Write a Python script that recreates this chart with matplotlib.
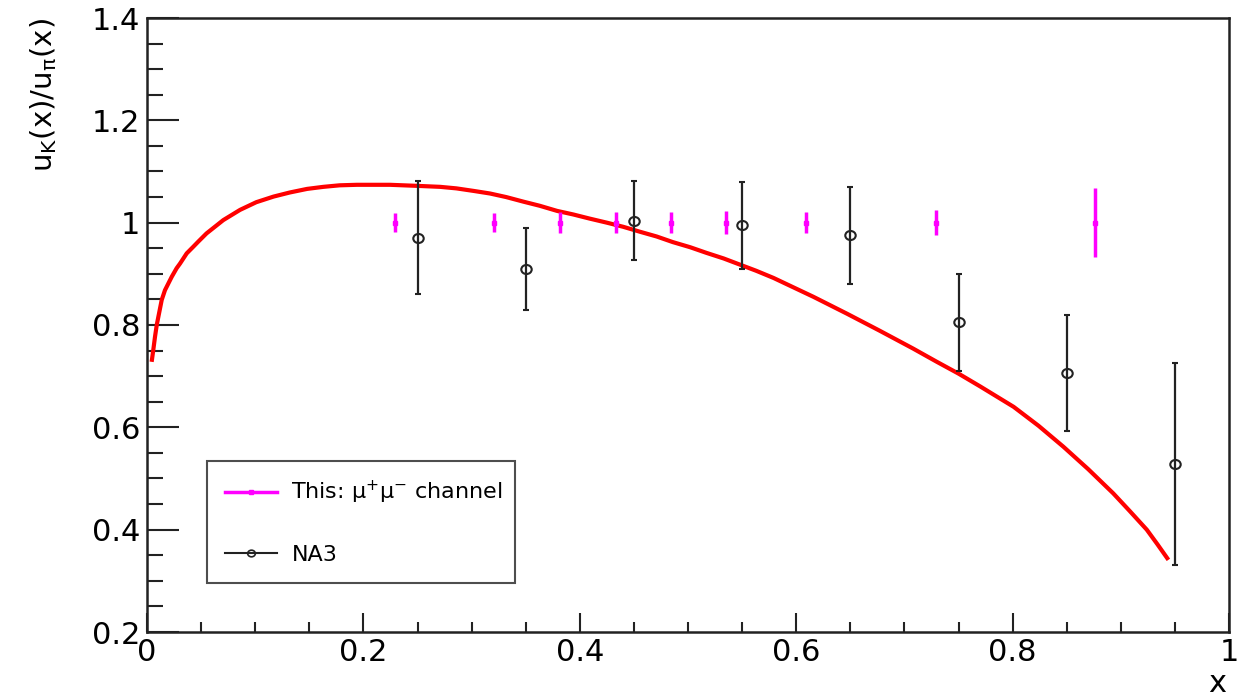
import matplotlib
matplotlib.use("Agg")
import matplotlib.pyplot as plt
from matplotlib.lines import Line2D
from matplotlib.ticker import MultipleLocator
from matplotlib.path import Path
from matplotlib.transforms import Affine2D

plt.rcParams['font.family'] = ['DejaVu Sans']
plt.rcParams['mathtext.fontset'] = 'dejavusans'

# --- data ---
this_x = [0.229, 0.321, 0.382, 0.433, 0.484, 0.535, 0.609, 0.729, 0.876]
this_y = [1.0, 1.0, 1.0, 1.0, 1.0, 1.0, 1.0, 1.0, 1.0]
this_err = [0.019, 0.019, 0.020, 0.021, 0.020, 0.022, 0.020, 0.024, 0.067]

na3_x = [0.25, 0.35, 0.45, 0.55, 0.65, 0.75, 0.85, 0.95]
na3_y = [0.971, 0.909, 1.004, 0.995, 0.975, 0.805, 0.706, 0.528]
na3_err = [0.110, 0.080, 0.077, 0.085, 0.095, 0.095, 0.113, 0.197]

curve_x = [0.0043, 0.0058, 0.0074, 0.009, 0.0105, 0.0136, 0.0166, 0.0197,
           0.0228, 0.0274, 0.0305, 0.0367, 0.0428, 0.0474, 0.055, 0.0705,
           0.086, 0.101, 0.117, 0.132, 0.148, 0.163, 0.178, 0.194, 0.209,
           0.2246, 0.249, 0.271, 0.286, 0.302, 0.317, 0.332, 0.348, 0.363,
           0.379, 0.394, 0.409, 0.425, 0.440, 0.456, 0.471, 0.486, 0.502,
           0.517, 0.533, 0.548, 0.563, 0.579, 0.594, 0.616, 0.647, 0.677,
           0.708, 0.730, 0.750, 0.770, 0.801, 0.824, 0.847, 0.870, 0.893,
           0.908, 0.924, 0.934, 0.944]
curve_y = [0.728, 0.751, 0.777, 0.800, 0.816, 0.849, 0.868, 0.881,
           0.894, 0.911, 0.920, 0.940, 0.953, 0.963, 0.979, 1.005,
           1.025, 1.040, 1.051, 1.059, 1.066, 1.070, 1.073, 1.074, 1.074,
           1.074, 1.072, 1.070, 1.067, 1.062, 1.057, 1.050, 1.041, 1.033,
           1.023, 1.016, 1.008, 1.000, 0.992, 0.982, 0.973, 0.962, 0.952,
           0.941, 0.930, 0.918, 0.906, 0.892, 0.877, 0.855, 0.822, 0.789,
           0.754, 0.728, 0.705, 0.680, 0.640, 0.603, 0.562, 0.518, 0.471,
           0.437, 0.400, 0.371, 0.341]

xticks = [0, 0.2, 0.4, 0.6, 0.8, 1.0]
xticklabels = ["0", "0.2", "0.4", "0.6", "0.8", "1"]
yticks = [0.2, 0.4, 0.6, 0.8, 1.0, 1.2, 1.4]
yticklabels = ["0.2", "0.4", "0.6", "0.8", "1", "1.2", "1.4"]

legend_this = r"This: $\mathregular{\mu^{+}\mu^{-}}$ channel"
legend_na3 = "NA3"

# slightly wide open-circle marker (the reference is stretched horizontally)
wide_circle = Path.unit_circle().transformed(Affine2D().scale(1.15, 1.0))

fig = plt.figure(figsize=(12.42, 6.98), dpi=100)
ax = fig.add_axes([147/1242, 1-632/698, (1229-147)/1242, (632-18)/698])

ax.plot(curve_x, curve_y, color='#ff0000', lw=3.0, zorder=2,
        solid_joinstyle='round', solid_capstyle='butt')

ax.errorbar(this_x, this_y, yerr=this_err, fmt='s', color='#ff00ff',
            ms=3.5, lw=2.5, capsize=0, zorder=3)
ax.errorbar(na3_x, na3_y, yerr=na3_err, fmt='none', ecolor='#222222',
            lw=1.6, capsize=2, capthick=1.5, zorder=4)
ax.plot(na3_x, na3_y, linestyle='none', marker=wide_circle, ms=7.5,
        mfc='none', mec='#222222', mew=1.5, zorder=5)

ax.set_xlim(0, 1)
ax.set_ylim(0.2, 1.4)
ax.set_xticks(xticks)
ax.set_xticklabels(xticklabels)
ax.set_yticks(yticks)
ax.set_yticklabels(yticklabels)
ax.xaxis.set_minor_locator(MultipleLocator(0.05))
ax.yaxis.set_minor_locator(MultipleLocator(0.05))
ax.tick_params(axis='both', which='both', direction='in', width=1.5,
               color='#222222', labelsize=22, top=False, right=False)
ax.tick_params(axis='y', which='major', length=23, pad=5)
ax.tick_params(axis='y', which='minor', length=11.5)
ax.tick_params(axis='x', which='major', length=14, pad=4)
ax.tick_params(axis='x', which='minor', length=7)
for s in ax.spines.values():
    s.set_linewidth(1.8)
    s.set_color('#222222')

fig.text(44/1242, 1-18/698, r"u$_{\mathregular{K}}$(x)/u$_{\mathregular{\pi}}$(x)",
         rotation=90, ha='center', va='top', fontsize=21)
fig.text(1217/1242, 1-683/698, "x", ha='center', va='center', fontsize=22)

handles = [
    Line2D([], [], color='#ff00ff', lw=2.5, marker='s', ms=3.5),
    Line2D([], [], color='#222222', lw=1.5, marker=wide_circle, ms=5.5,
           mfc='none', mew=1.2),
]
leg = ax.legend(handles, [legend_this, legend_na3], loc='lower left',
                bbox_to_anchor=((207-147)/1082, (632-583)/614, (515-207)/1082, 0.2),
                mode='expand', borderaxespad=0, fontsize=16, frameon=True,
                fancybox=False, edgecolor='#222222', labelspacing=1.75,
                borderpad=0.8, handlelength=2.35, handletextpad=0.65)
leg.get_frame().set_linewidth(1.5)

fig.savefig("out.png", dpi=100)
